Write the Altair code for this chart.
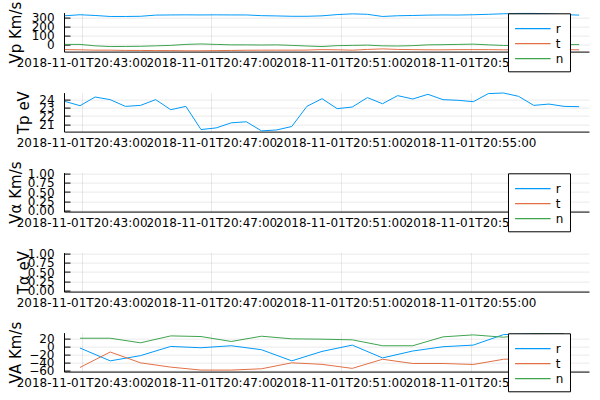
import altair as alt
import pandas as pd

# ---------------- data ----------------
times = [
    "2018-11-01T20:42:29", "2018-11-01T20:42:57", "2018-11-01T20:43:25", "2018-11-01T20:43:53",
    "2018-11-01T20:44:21", "2018-11-01T20:44:49", "2018-11-01T20:45:17", "2018-11-01T20:45:45",
    "2018-11-01T20:46:13", "2018-11-01T20:46:41", "2018-11-01T20:47:09", "2018-11-01T20:47:37",
    "2018-11-01T20:48:05", "2018-11-01T20:48:33", "2018-11-01T20:49:01", "2018-11-01T20:49:29",
    "2018-11-01T20:49:57", "2018-11-01T20:50:25", "2018-11-01T20:50:53", "2018-11-01T20:51:21",
    "2018-11-01T20:51:49", "2018-11-01T20:52:17", "2018-11-01T20:52:45", "2018-11-01T20:53:13",
    "2018-11-01T20:53:41", "2018-11-01T20:54:09", "2018-11-01T20:54:37", "2018-11-01T20:55:05",
    "2018-11-01T20:55:33", "2018-11-01T20:56:01", "2018-11-01T20:56:29", "2018-11-01T20:56:57",
    "2018-11-01T20:57:25", "2018-11-01T20:57:53", "2018-11-01T20:58:21",
]

vp_r = [320, 331, 323, 312, 312, 314, 327, 329, 330, 329, 330, 329, 329, 321, 318, 314, 314, 319,
        333, 341, 336, 312, 320, 323, 327, 329, 328, 331, 336, 342, 346, 346, 341, 333, 327]
vp_t = [-56, -58, -62, -62, -65, -65, -67, -67, -69, -69, -67, -65, -63, -62, -62, -62, -61, -56,
        -58, -62, -54, -48, -54, -56, -58, -58, -56, -56, -56, -58, -58, -56, -54, -56, -58]
vp_n = [2, 2, -14, -22, -21, -19, -14, -9, 2, 7, 2, -3, -3, -5, -3, -9, -16, -22,
        -12, -9, -6, -14, -16, -12, -3, -1, 2, 5, -3, -10, -9, -6, -3, -1, 0]

tp = [23.79, 23.26, 24.32, 24.0, 23.18, 23.3, 24.0, 22.77, 23.18, 20.35, 20.55, 21.17, 21.3,
      20.19, 20.3, 20.72, 23.18, 24.12, 22.9, 23.1, 24.25, 23.5, 24.49, 24.08, 24.65, 24.0,
      23.92, 23.75, 24.74, 24.81, 24.4, 23.3, 23.46, 23.18, 23.14]

va_times = times[1::2]
va_r = [-4.4, -36.3, -23.3, -0.4, -3.7, 1.3, -8.6, -36.3, -12.8, 2.9, -29, -11.8, -1.2, 2.9, 29, 31, 30]
va_t = [-52.7, -14.3, -41.2, -51.9, -59.2, -59.2, -56, -41.2, -45, -55, -32.3, -42.9, -42.9, -45.3,
        -32.3, -30, -30]
va_n = [20, 20, 8.6, 25.8, 24.2, 11.9, 25, 18.5, 17.6, 16, 1.3, 1.3, 23.4, 28.3, 22.5, 31, 31]

# alpha-particle series are empty in the reference
valpha_r, valpha_t, valpha_n = [], [], []
talpha = []

comps = ["r", "t", "n"]
colors = ["#009AFA", "#E26F46", "#3EA44E"]

x_ticks = [(20, 43), (20, 47), (20, 51), (20, 55)]
x_range = [(20, 42, 27, 400), (20, 58, 39, 200)]


def dt(h, m, s=0, ms=0):
    return alt.DateTime(year=2018, month=11, date=1, hours=h, minutes=m, seconds=s, milliseconds=ms)


def long_df(t, series):
    rows = []
    for comp, vals in series:
        for ti, v in zip(t, vals):
            rows.append({"time": ti, "comp": comp, "value": v})
    return pd.DataFrame(rows, columns=["time", "comp", "value"])


vp_df = long_df(times, [("r", vp_r), ("t", vp_t), ("n", vp_n)])
tp_df = long_df(times, [("r", tp)])
valpha_df = long_df(times, [("r", valpha_r), ("t", valpha_t), ("n", valpha_n)])
talpha_df = long_df(times, [("r", talpha)])
va_df = long_df(va_times, [("r", va_r), ("t", va_t), ("n", va_n)])

W, H = 525, 39
x_scale = alt.Scale(domain=[dt(*x_range[0]), dt(*x_range[1])], nice=False)


def x_axis():
    return alt.Axis(values=[dt(*v) for v in x_ticks], format="%Y-%m-%dT%H:%M:%S",
                    labelOverlap=False, labelFlush=False, labelBound=False,
                    ticks=False, tickSize=0, labelPadding=6, grid=True, title=None,
                    domain=True)


def legend_spec():
    return alt.Legend(title=None, orient="none", legendX=444, legendY=0.7,
                      symbolType="M-1,0H3.315", symbolSize=272,
                      symbolStrokeWidth=1.2, symbolFillColor="transparent",
                      labelFontSize=12, labelOffset=23.4, padding=6.3, rowPadding=-3,
                      strokeColor="black", fillColor="white", direction="vertical")


def panel(df, title, ydom, yvals, yfmt, title_x, with_legend):
    y_scale = alt.Scale(domain=ydom, nice=False, zero=False)
    y_main = alt.Axis(values=yvals, format=yfmt, grid=True, ticks=False, tickSize=0,
                      labelPadding=10, labelOverlap=False, title=title, titleAngle=270,
                      titleBaseline="top", titleAlign="center", titleX=title_x,
                      titleY=H / 2, domain=True)
    y_ticks = alt.Axis(orient="left", offset=-6, values=yvals, ticks=True, tickSize=6,
                       tickColor="black", tickWidth=1, labels=False, domain=False,
                       grid=False, title=None)
    if with_legend:
        color = alt.Color("comp:N", scale=alt.Scale(domain=comps, range=colors),
                          legend=legend_spec())
    else:
        color = alt.value(colors[0])
    main = alt.Chart(df).mark_line(strokeWidth=1).encode(
        x=alt.X("time:T", scale=x_scale, axis=x_axis()),
        y=alt.Y("value:Q", scale=y_scale, axis=y_main),
        color=color,
    )
    ticks = alt.Chart(df).mark_line(opacity=0).encode(
        x=alt.X("time:T", scale=x_scale, axis=x_axis()),
        y=alt.Y("value:Q", scale=y_scale, axis=y_ticks),
    )
    return alt.layer(main, ticks).resolve_axis(y="independent").properties(width=W, height=H)


p1 = panel(vp_df, "Vp Km/s", [-78, 355], [0, 100, 200, 300], "d", -56, True)
p2 = panel(tp_df, "Tp eV", [20.1, 24.86], [21, 22, 23, 24], "d", -48, False)
p3 = panel(valpha_df, "Vα Km/s", [-0.035, 1.035], [0, 0.25, 0.5, 0.75, 1.0], ".2f", -56, True)
p4 = panel(talpha_df, "Tα eV", [-0.035, 1.035], [0, 0.25, 0.5, 0.75, 1.0], ".2f", -48, False)
p5 = panel(va_df, "VA Km/s", [-63, 34], [-60, -40, -20, 0, 20], "d", -56, True)

chart = (
    alt.vconcat(p1, p2, p3, p4, p5, spacing=41, bounds="flush")
    .resolve_scale(color="independent")
    .resolve_legend(color="independent")
    .properties(padding={"left": 7, "top": 0.6, "right": 0, "bottom": 0}, background="white")
    .configure(font="DejaVu Sans")
    .configure_axis(labelFont="DejaVu Sans", labelFontSize=12, labelColor="black",
                    titleFont="DejaVu Sans", titleFontSize=15, titleFontWeight="normal",
                    titleColor="black", domainColor="black", domainWidth=1,
                    gridColor="#000000", gridOpacity=0.09, gridWidth=1)
    .configure_legend(labelFont="DejaVu Sans", labelColor="black")
    .configure_view(stroke="transparent")
)

chart.save("out.html", embed_options={"renderer": "svg", "actions": False})
